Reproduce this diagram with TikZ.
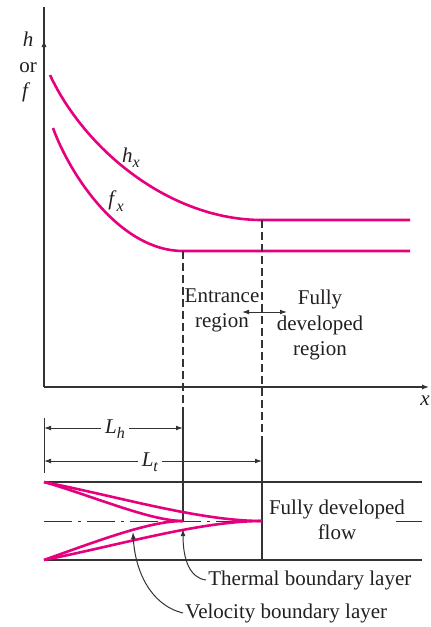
\documentclass[tikz,border=0pt]{standalone}
\usepackage{fontspec}
\setmainfont{Liberation Serif}
\usepackage{tikz}
\usetikzlibrary{arrows.meta,positioning}
\definecolor{ink}{HTML}{231F20}
\definecolor{rule}{HTML}{333333}
\definecolor{magenta}{HTML}{E6007E}
\newcommand\subv[2]{\textit{#1}\raisebox{-0.55ex}{\fontsize{8}{8}\selectfont\textit{#2}}}

\begin{document}
\begin{tikzpicture}[x=0.5pt,y=-0.5pt,
    font=\fontsize{10.5}{12.6}\selectfont,text=ink,
    line/.style={draw=rule,line width=0.65pt},
    axis/.style={line,-{Latex[length=3.5pt,width=2.6pt]}},
    guide/.style={line,dash pattern=on 4pt off 2pt},
    dim/.style={line,line width=0.5pt,{Latex[length=3.5pt,width=2.4pt]}-{Latex[length=3.5pt,width=2.4pt]}},
    curve/.style={draw=magenta,line width=1.3pt},
    note/.style={line,line width=0.5pt,-{Latex[length=3.5pt,width=2.4pt]}},
    lbl/.style={inner sep=1pt,align=center}]
  \useasboundingbox (0,0) rectangle (431,627);
  % axes
  \coordinate (O) at (44,387);
  \coordinate (ytip) at (44,40);
  \coordinate (ytop) at (44,7);
  \coordinate (xtip) at (429,387);
  \draw[line] (O) -- (ytop);
  \draw[axis] (O) -- (ytip);
  \draw[axis] (O) -- (xtip);
  \node[lbl] (ylab) at (28,67) {\textit{h}\\or\\\textit{f}\,};
  \node[lbl] (xlab) at (425,401) {\textit{x}};
  % h and f curves
  \coordinate (hs) at (50,75);
  \coordinate (he) at (262,220);
  \coordinate (hend) at (410,220);
  \coordinate (fs) at (53,128);
  \coordinate (fe) at (183,251);
  \coordinate (fend) at (410,251);
  \draw[curve] (hs) .. controls (85,150) and (170,220) .. (he) -- (hend);
  \draw[curve] (fs) .. controls (70,175) and (120,251) .. (fe) -- (fend);
  \node[lbl] (hx) at (131,158) {\subv{h}{x}};
  \node[lbl] (fx) at (116,201) {\subv{f}{x}};
  % region limits
  \coordinate (vh) at (183,412);
  \coordinate (vhc) at (183,521);
  \coordinate (vt) at (262,436);
  \coordinate (vtc) at (262,560);
  \draw[guide] (fe) -- (vh);
  \draw[line] (vh) -- (vhc);
  \draw[guide] (he) -- (vt);
  \draw[line] (vt) -- (vtc);
  \node[lbl] (entr) at (222,310) {Entrance\\region};
  \node[lbl] (full) at (320,325) {Fully\\developed\\region};
  \coordinate (ra) at (242,312);
  \coordinate (rb) at (287,312);
  \draw[dim] (ra) -- (rb);
  % lengths
  \coordinate (tka) at (44,418);
  \coordinate (tkb) at (44,473);
  \coordinate (lha) at (44,428);
  \coordinate (lhb) at (183,428);
  \coordinate (lta) at (44,461);
  \coordinate (ltb) at (262,461);
  \draw[line,line width=0.5pt] (tka) -- (tkb);
  \draw[dim] (lha) -- (lhb);
  \draw[dim] (lta) -- (ltb);
  \node[lbl,fill=white,inner sep=2pt] (Lh) at (115,429) {\subv{L}{h}};
  \node[lbl,fill=white,inner sep=2pt] (Lt) at (150,462) {\subv{L}{t}};
  % tube
  \coordinate (wta) at (44,482);
  \coordinate (wtb) at (422,482);
  \coordinate (wba) at (44,560);
  \coordinate (wbb) at (422,560);
  \coordinate (cla) at (44,521);
  \coordinate (clb) at (262,521);
  \coordinate (clc) at (396,521);
  \coordinate (cld) at (422,521);
  \draw[line] (wta) -- (wtb);
  \draw[line] (wba) -- (wbb);
  \draw[line,line width=0.5pt,dash pattern=on 14pt off 3pt on 1.5pt off 3pt] (cla) -- (clb);
  \draw[line,line width=0.5pt] (clc) -- (cld);
  \node[lbl] (flow) at (337,520) {Fully developed\\flow};
  % boundary layers
  \draw[curve] (wta) .. controls (120,497) and (200,521) .. (clb);
  \draw[curve] (wba) .. controls (120,545) and (200,521) .. (clb);
  \draw[curve] (wta) .. controls (90,495) and (150,521) .. (vhc);
  \draw[curve] (wba) .. controls (100,540) and (150,521) .. (vhc);
  % labels with leaders
  \node[lbl,anchor=west] (thl) at (206,580) {Thermal boundary layer};
  \node[lbl,anchor=west] (vel) at (183,613) {Velocity boundary layer};
  \coordinate (tht) at (183,529);
  \coordinate (vet) at (133,532);
  \draw[note] (thl.west) .. controls (190,578) and (183,560) .. (tht);
  \draw[note] (vel.west) .. controls (150,605) and (135,570) .. (vet);
\end{tikzpicture}
\end{document}
